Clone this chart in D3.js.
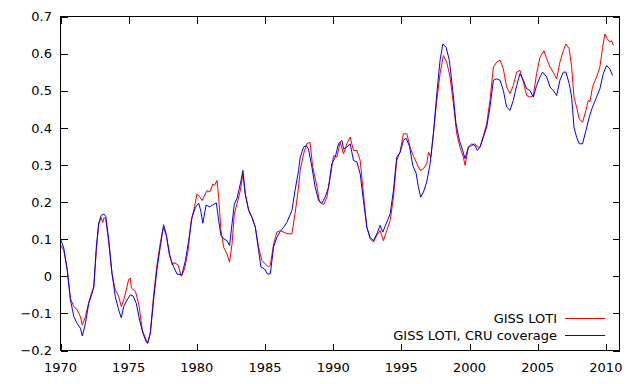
<!DOCTYPE html>
<html>
<head>
<meta charset="utf-8">
<script src="https://cdn.jsdelivr.net/npm/d3@7"></script>
<style>
  body { margin: 0; background: #fff; }
  text { font-family: "DejaVu Sans", sans-serif; font-size: 13px; fill: #000; }
</style>
</head>
<body>
<svg id="chart" width="640" height="384"></svg>
<script>
// GISS LOTI, 12-month running mean
var lotiYears = [1970.0, 1970.24, 1970.49, 1970.73, 1970.98, 1971.22, 1971.46, 1971.6, 1971.83, 1972.07,
  1972.32, 1972.44, 1972.63, 1972.8, 1972.98, 1973.1, 1973.2, 1973.32, 1973.54, 1973.78,
  1974.02, 1974.15, 1974.27, 1974.46, 1974.63, 1974.88, 1975.0, 1975.12, 1975.2, 1975.5,
  1975.75, 1976.0, 1976.29, 1976.39, 1976.59, 1976.83, 1977.07, 1977.32, 1977.5, 1977.56,
  1977.76, 1978.0, 1978.2, 1978.3, 1978.62, 1978.86, 1979.1, 1979.35, 1979.59, 1979.83,
  1980.01, 1980.2, 1980.38, 1980.5, 1980.75, 1980.95, 1981.18, 1981.3, 1981.48, 1981.6,
  1981.77, 1981.97, 1982.21, 1982.4, 1982.58, 1982.75, 1982.94, 1983.19, 1983.38, 1983.55,
  1983.8, 1984.04, 1984.29, 1984.53, 1984.77, 1985.02, 1985.26, 1985.39, 1985.63, 1985.87,
  1986.12, 1986.36, 1986.6, 1986.97, 1987.2, 1987.4, 1987.58, 1987.83, 1988.07, 1988.3,
  1988.5, 1988.77, 1989.0, 1989.3, 1989.54, 1989.78, 1990.03, 1990.27, 1990.51, 1990.76,
  1991.0, 1991.25, 1991.49, 1991.74, 1991.98, 1992.22, 1992.47, 1992.71, 1992.95, 1993.2,
  1993.44, 1993.68, 1993.93, 1994.18, 1994.42, 1994.66, 1994.91, 1995.15, 1995.4, 1995.64,
  1995.89, 1996.13, 1996.38, 1996.62, 1996.86, 1996.99, 1997.16, 1997.35, 1997.6, 1997.84,
  1998.08, 1998.33, 1998.57, 1998.82, 1999.06, 1999.3, 1999.55, 1999.67, 1999.92, 2000.16,
  2000.4, 2000.58, 2000.77, 2001.02, 2001.26, 2001.5, 2001.75, 2001.99, 2002.24, 2002.48,
  2002.72, 2002.97, 2003.21, 2003.46, 2003.7, 2003.95, 2004.19, 2004.43, 2004.68, 2004.92,
  2005.17, 2005.46, 2005.66, 2005.9, 2006.14, 2006.39, 2006.63, 2006.88, 2007.07, 2007.31,
  2007.49, 2007.66, 2007.85, 2008.05, 2008.29, 2008.54, 2008.71, 2008.83, 2009.02, 2009.32,
  2009.56, 2009.76, 2009.93, 2010.1, 2010.29, 2010.42, 2010.54];
var lotiValues = [0.085, 0.07, 0.02, -0.06, -0.082, -0.09, -0.109, -0.132, -0.109, -0.07,
  -0.04, -0.03, 0.07, 0.14, 0.158, 0.145, 0.158, 0.155, 0.09, 0.005,
  -0.037, -0.045, -0.055, -0.082, -0.065, -0.028, -0.008, -0.005, -0.032, -0.041,
  -0.077, -0.145, -0.172, -0.18, -0.15, -0.05, 0.03, 0.09, 0.125, 0.13,
  0.11, 0.06, 0.03, 0.037, 0.031, 0.0, 0.02, 0.067, 0.151, 0.187,
  0.222, 0.215, 0.204, 0.213, 0.231, 0.227, 0.249, 0.245, 0.258, 0.213,
  0.123, 0.078, 0.06, 0.038, 0.087, 0.168, 0.195, 0.231, 0.276, 0.222,
  0.179, 0.16, 0.132, 0.078, 0.042, 0.033, 0.025, 0.03, 0.087, 0.119,
  0.123, 0.119, 0.115, 0.114, 0.168, 0.222, 0.285, 0.33, 0.357, 0.361,
  0.294, 0.249, 0.2, 0.193, 0.213, 0.267, 0.325, 0.321, 0.361, 0.33,
  0.357, 0.375, 0.339, 0.339, 0.312, 0.222, 0.132, 0.101, 0.092, 0.11,
  0.123, 0.096, 0.123, 0.15, 0.213, 0.312, 0.336, 0.384, 0.384, 0.348,
  0.323, 0.305, 0.285, 0.29, 0.303, 0.334, 0.321, 0.384, 0.474, 0.546,
  0.595, 0.577, 0.537, 0.465, 0.384, 0.348, 0.321, 0.299, 0.348, 0.352,
  0.357, 0.348, 0.348, 0.379, 0.411, 0.474, 0.564, 0.577, 0.582, 0.559,
  0.51, 0.492, 0.514, 0.55, 0.555, 0.523, 0.487, 0.483, 0.487, 0.546,
  0.59, 0.608, 0.586, 0.564, 0.55, 0.532, 0.577, 0.608, 0.626, 0.613,
  0.564, 0.483, 0.456, 0.424, 0.415, 0.447, 0.474, 0.47, 0.51, 0.537,
  0.564, 0.617, 0.653, 0.64, 0.631, 0.635, 0.622];

// GISS LOTI masked to CRU coverage
var cruYears = [1970.0, 1970.24, 1970.49, 1970.73, 1970.98, 1971.22, 1971.46, 1971.6, 1971.83, 1972.07,
  1972.32, 1972.44, 1972.63, 1972.8, 1972.98, 1973.17, 1973.32, 1973.54, 1973.78, 1974.02,
  1974.27, 1974.46, 1974.63, 1974.88, 1975.12, 1975.32, 1975.56, 1975.8, 1976.05, 1976.29,
  1976.39, 1976.59, 1976.83, 1977.07, 1977.32, 1977.56, 1977.76, 1978.0, 1978.29, 1978.55,
  1978.9, 1979.16, 1979.4, 1979.65, 1979.9, 1980.14, 1980.3, 1980.44, 1980.68, 1980.92,
  1981.16, 1981.43, 1981.6, 1981.77, 1981.97, 1982.21, 1982.4, 1982.58, 1982.75, 1982.94,
  1983.19, 1983.38, 1983.55, 1983.8, 1984.04, 1984.29, 1984.53, 1984.7, 1984.95, 1985.19,
  1985.39, 1985.63, 1985.87, 1986.12, 1986.36, 1986.6, 1986.97, 1987.2, 1987.46, 1987.58,
  1987.83, 1988.02, 1988.19, 1988.44, 1988.68, 1988.93, 1989.17, 1989.41, 1989.66, 1989.9,
  1990.15, 1990.39, 1990.64, 1990.76, 1991.0, 1991.25, 1991.49, 1991.74, 1991.98, 1992.22,
  1992.47, 1992.71, 1992.95, 1993.2, 1993.44, 1993.64, 1993.93, 1994.18, 1994.42, 1994.66,
  1994.91, 1995.15, 1995.35, 1995.6, 1995.84, 1996.08, 1996.25, 1996.42, 1996.62, 1996.86,
  1997.11, 1997.35, 1997.6, 1997.84, 1998.04, 1998.28, 1998.52, 1998.77, 1999.01, 1999.26,
  1999.5, 1999.67, 1999.92, 2000.16, 2000.4, 2000.58, 2000.77, 2001.02, 2001.26, 2001.5,
  2001.75, 2001.99, 2002.24, 2002.48, 2002.72, 2002.97, 2003.21, 2003.46, 2003.7, 2003.95,
  2004.19, 2004.43, 2004.68, 2004.92, 2005.17, 2005.36, 2005.66, 2005.9, 2006.14, 2006.39,
  2006.63, 2006.88, 2007.07, 2007.31, 2007.49, 2007.66, 2007.85, 2008.05, 2008.29, 2008.54,
  2008.78, 2009.02, 2009.32, 2009.56, 2009.81, 2010.05, 2010.29, 2010.49];
var cruValues = [0.1, 0.076, 0.017, -0.064, -0.109, -0.127, -0.14, -0.161, -0.127, -0.073,
  -0.046, -0.028, 0.08, 0.143, 0.164, 0.168, 0.162, 0.098, 0.008, -0.055,
  -0.091, -0.112, -0.082, -0.064, -0.05, -0.053, -0.073, -0.118, -0.154, -0.177,
  -0.181, -0.154, -0.064, 0.017, 0.08, 0.139, 0.112, 0.055, 0.026, 0.006,
  0.004, 0.042, 0.096, 0.159, 0.186, 0.197, 0.174, 0.143, 0.192, 0.187,
  0.192, 0.198, 0.15, 0.11, 0.101, 0.096, 0.083, 0.141, 0.195, 0.209,
  0.249, 0.285, 0.222, 0.177, 0.159, 0.132, 0.069, 0.025, 0.02, 0.006,
  0.007, 0.079, 0.105, 0.121, 0.132, 0.145, 0.177, 0.231, 0.285, 0.321,
  0.348, 0.352, 0.343, 0.294, 0.24, 0.204, 0.197, 0.213, 0.24, 0.303,
  0.321, 0.357, 0.366, 0.343, 0.348, 0.357, 0.312, 0.308, 0.276, 0.204,
  0.132, 0.105, 0.096, 0.114, 0.137, 0.119, 0.146, 0.168, 0.231, 0.321,
  0.334, 0.366, 0.372, 0.35, 0.298, 0.278, 0.24, 0.213, 0.227, 0.254,
  0.303, 0.384, 0.492, 0.582, 0.626, 0.617, 0.582, 0.501, 0.411, 0.366,
  0.339, 0.317, 0.348, 0.357, 0.352, 0.339, 0.348, 0.375, 0.402, 0.456,
  0.528, 0.532, 0.528, 0.501, 0.456, 0.447, 0.474, 0.514, 0.546, 0.528,
  0.505, 0.501, 0.483, 0.514, 0.537, 0.55, 0.537, 0.51, 0.501, 0.487,
  0.528, 0.55, 0.55, 0.519, 0.483, 0.402, 0.375, 0.357, 0.357, 0.393,
  0.429, 0.456, 0.483, 0.505, 0.546, 0.568, 0.559, 0.541];

var xTicks = [1970, 1975, 1980, 1985, 1990, 1995, 2000, 2005, 2010];
var yTicks = [-0.2, -0.1, 0, 0.1, 0.2, 0.3, 0.4, 0.5, 0.6, 0.7];
var seriesNames = ["GISS LOTI", "GISS LOTI, CRU coverage"];
var seriesColors = ["#ff0000", "#0000ff"];

var svg = d3.select("#chart");
var plotLeft = 60.5, plotRight = 619.5, plotTop = 16.5, plotBottom = 350.5;
var tickLen = 7;

var x = d3.scaleLinear().domain([1970, 2011]).range([plotLeft, plotRight]);
var y = d3.scaleLinear().domain([-0.2, 0.7]).range([plotBottom, plotTop]);

var fmtY = function (d) { return d === 0 ? "0" : d3.format(".1f")(d); };

// axes (gnuplot style: ticks inside and mirrored)
function noDomain(g) { g.select(".domain").remove(); }

svg.append("g")
    .attr("transform", "translate(0," + plotBottom + ")")
    .call(d3.axisTop(x).tickValues(xTicks).tickSize(tickLen).tickFormat(""))
    .call(noDomain);
svg.append("g")
    .attr("transform", "translate(0," + plotTop + ")")
    .call(d3.axisBottom(x).tickValues(xTicks).tickSize(tickLen).tickFormat(""))
    .call(noDomain);
svg.append("g")
    .attr("transform", "translate(" + plotLeft + ",0)")
    .call(d3.axisRight(y).tickValues(yTicks).tickSize(tickLen).tickFormat(""))
    .call(noDomain);
svg.append("g")
    .attr("transform", "translate(" + plotRight + ",0)")
    .call(d3.axisLeft(y).tickValues(yTicks).tickSize(tickLen).tickFormat(""))
    .call(noDomain);

svg.selectAll("g.tick line").attr("stroke", "#000").attr("shape-rendering", "crispEdges");

// tick labels
svg.append("g").selectAll("text")
    .data(yTicks)
    .enter().append("text")
    .attr("x", 52)
    .attr("y", function (d) { return y(d); })
    .attr("dy", "0.36em")
    .attr("text-anchor", "end")
    .text(fmtY);

svg.append("g").selectAll("text")
    .data(xTicks)
    .enter().append("text")
    .attr("x", function (d) { return x(d); })
    .attr("y", 371.5)
    .attr("text-anchor", "middle")
    .text(function (d) { return d; });

// data lines
var line = d3.line()
    .x(function (d) { return x(d[0]); })
    .y(function (d) { return y(d[1]); });

var series = [
    d3.zip(lotiYears, lotiValues),
    d3.zip(cruYears, cruValues)
];

svg.append("g").selectAll("path")
    .data(series)
    .enter().append("path")
    .attr("fill", "none")
    .attr("stroke", function (d, i) { return seriesColors[i]; })
    .attr("stroke-width", 1)
    .attr("stroke-linejoin", "round")
    .attr("d", line);

// border
svg.append("rect")
    .attr("x", plotLeft)
    .attr("y", plotTop)
    .attr("width", plotRight - plotLeft)
    .attr("height", plotBottom - plotTop)
    .attr("fill", "none")
    .attr("stroke", "#000")
    .attr("shape-rendering", "crispEdges");

// legend
var legend = svg.append("g").selectAll("g")
    .data(seriesNames)
    .enter().append("g")
    .attr("transform", function (d, i) { return "translate(0," + (318.5 + i * 17) + ")"; });

legend.append("text")
    .attr("x", 557)
    .attr("dy", "0.36em")
    .attr("text-anchor", "end")
    .text(function (d) { return d; });

legend.append("line")
    .attr("x1", 565)
    .attr("x2", 605)
    .attr("stroke", function (d) { return seriesColors[seriesNames.indexOf(d)]; })
    .attr("stroke-width", 1);
</script>
</body>
</html>
